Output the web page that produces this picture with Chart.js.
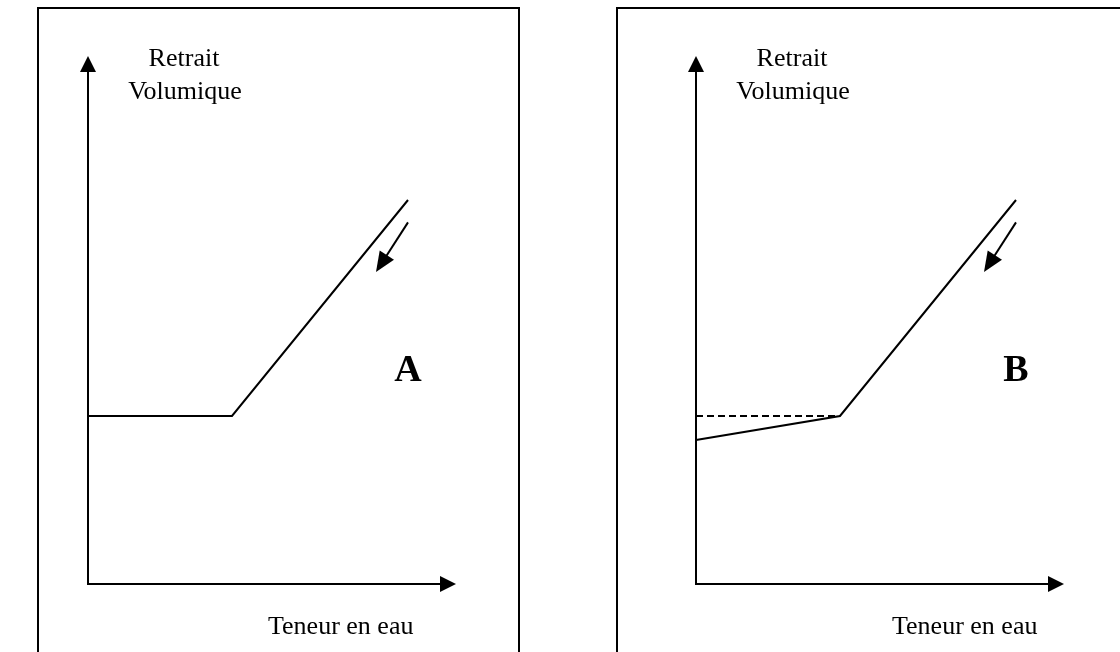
<!DOCTYPE html>
<html>
<head>
<meta charset="utf-8">
<script src="https://cdn.jsdelivr.net/npm/chart.js@4/dist/chart.umd.min.js"></script>
<style>
    html, body { margin: 0; padding: 0; background: #fff; width: 1120px; height: 652px; overflow: hidden; }
    .panel { position: absolute; top: 7px; height: 700px; border: 2px solid #000; box-sizing: border-box; }
    #panel_a { left: 37px; width: 483px; }
    #panel_b { left: 616px; width: 560px; }
    canvas { position: absolute; top: 0; }
    #chart_a { left: 0; }
    #chart_b { left: 560px; }
</style>
</head>
<body>
<div class="panel" id="panel_a"></div>
<div class="panel" id="panel_b"></div>
<canvas id="chart_a" width="560" height="652"></canvas>
<canvas id="chart_b" width="560" height="652"></canvas>
<script>
// retrait volumique vs teneur en eau, two schematic cases A and B
const waterContent = [0, 9, 20];
const shrinkA = [10.5, 10.5, 24];
const shrinkB = [9, 10.5, 24];
const dashedX = [0, 9];
const dashedY = [10.5, 10.5];
// direction arrow along the drying path: [x, y] start and end
const arrowFrom = [20, 22.6];
const arrowTo = [18, 19.5];
const axisMaxX = 23;
const axisMaxY = 33;
const labelPos = [20, 12.7];

const yTitle = ['Retrait', 'Volumique'];
const xTitle = 'Teneur en eau';
const panelNames = ['A', 'B'];

function toPoints(xs, ys) {
    return xs.map((x, i) => ({ x: x, y: ys[i] }));
}

function arrowHead(ctx, tipX, tipY, fromX, fromY, len, half) {
    const ang = Math.atan2(tipY - fromY, tipX - fromX);
    ctx.beginPath();
    ctx.moveTo(tipX, tipY);
    ctx.lineTo(tipX - len * Math.cos(ang) + half * Math.sin(ang), tipY - len * Math.sin(ang) - half * Math.cos(ang));
    ctx.lineTo(tipX - len * Math.cos(ang) - half * Math.sin(ang), tipY - len * Math.sin(ang) + half * Math.cos(ang));
    ctx.closePath();
    ctx.fill();
}

const sketchPlugin = {
    id: 'sketch',
    beforeDatasetsDraw(chart, args, opts) {
        const ctx = chart.ctx;
        const sx = chart.scales.x, sy = chart.scales.y;
        const x0 = sx.getPixelForValue(0), y0 = sy.getPixelForValue(0);
        const xEnd = sx.getPixelForValue(axisMaxX), yEnd = sy.getPixelForValue(axisMaxY);
        ctx.save();
        ctx.strokeStyle = '#000';
        ctx.fillStyle = '#000';
        ctx.lineWidth = 2;
        ctx.beginPath();
        ctx.moveTo(x0, y0);
        ctx.lineTo(x0, yEnd + 14);
        ctx.moveTo(x0 - 1, y0);
        ctx.lineTo(xEnd - 14, y0);
        ctx.stroke();
        arrowHead(ctx, x0, yEnd, x0, y0, 16, 8);
        arrowHead(ctx, xEnd, y0, x0, y0, 16, 8);
        ctx.restore();
    },
    afterDatasetsDraw(chart, args, opts) {
        const ctx = chart.ctx;
        const sx = chart.scales.x, sy = chart.scales.y;
        const x0 = sx.getPixelForValue(0), y0 = sy.getPixelForValue(0);
        ctx.save();
        ctx.fillStyle = '#000';
        ctx.strokeStyle = '#000';

        // direction arrow
        const ax1 = sx.getPixelForValue(arrowFrom[0]), ay1 = sy.getPixelForValue(arrowFrom[1]);
        const ax2 = sx.getPixelForValue(arrowTo[0]), ay2 = sy.getPixelForValue(arrowTo[1]);
        const ang = Math.atan2(ay2 - ay1, ax2 - ax1);
        ctx.lineWidth = 2;
        ctx.beginPath();
        ctx.moveTo(ax1, ay1);
        ctx.lineTo(ax2 - 14 * Math.cos(ang), ay2 - 14 * Math.sin(ang));
        ctx.stroke();
        arrowHead(ctx, ax2, ay2, ax1, ay1, 20, 8.5);

        // axis titles
        ctx.font = '26px "Liberation Serif", "Times New Roman", serif';
        ctx.textAlign = 'center';
        ctx.textBaseline = 'alphabetic';
        ctx.fillText(yTitle[0], x0 + 96, 66);
        ctx.fillText(yTitle[1], x0 + 97, 99);
        ctx.textAlign = 'left';
        ctx.fillText(xTitle, x0 + opts.xTitleOffset, y0 + 50);

        // panel letter
        ctx.font = 'bold 38px "Liberation Serif", "Times New Roman", serif';
        ctx.textAlign = 'center';
        ctx.fillText(opts.name, sx.getPixelForValue(labelPos[0]), sy.getPixelForValue(labelPos[1]));
        ctx.restore();
    }
};

function makeChart(canvasId, datasets, padLeft, name, xTitleOffset) {
    const ctx = document.getElementById(canvasId).getContext('2d');
    return new Chart(ctx, {
        type: 'scatter',
        data: { datasets: datasets },
        options: {
            responsive: false,
            animation: false,
            events: [],
            layout: {
                padding: { left: padLeft, right: 560 - padLeft - 368, top: 56, bottom: 68 }
            },
            elements: { point: { radius: 0 } },
            plugins: {
                legend: { display: false },
                tooltip: { enabled: false },
                sketch: { name: name, xTitleOffset: xTitleOffset }
            },
            scales: {
                x: { type: 'linear', display: false, min: 0, max: axisMaxX },
                y: { type: 'linear', display: false, min: 0, max: axisMaxY }
            }
        },
        plugins: [sketchPlugin]
    });
}

makeChart('chart_a', [
    {
        label: 'Retrait A',
        data: toPoints(waterContent, shrinkA),
        showLine: true,
        borderColor: '#000',
        borderWidth: 2,
        tension: 0,
        clip: false
    }
], 88, panelNames[0], 180);

makeChart('chart_b', [
    {
        label: 'Palier',
        data: toPoints(dashedX, dashedY),
        showLine: true,
        borderColor: '#000',
        borderWidth: 2,
        borderDash: [7, 4],
        tension: 0,
        clip: false
    },
    {
        label: 'Retrait B',
        data: toPoints(waterContent, shrinkB),
        showLine: true,
        borderColor: '#000',
        borderWidth: 2,
        tension: 0,
        clip: false
    }
], 136, panelNames[1], 196);
</script>
</body>
</html>
